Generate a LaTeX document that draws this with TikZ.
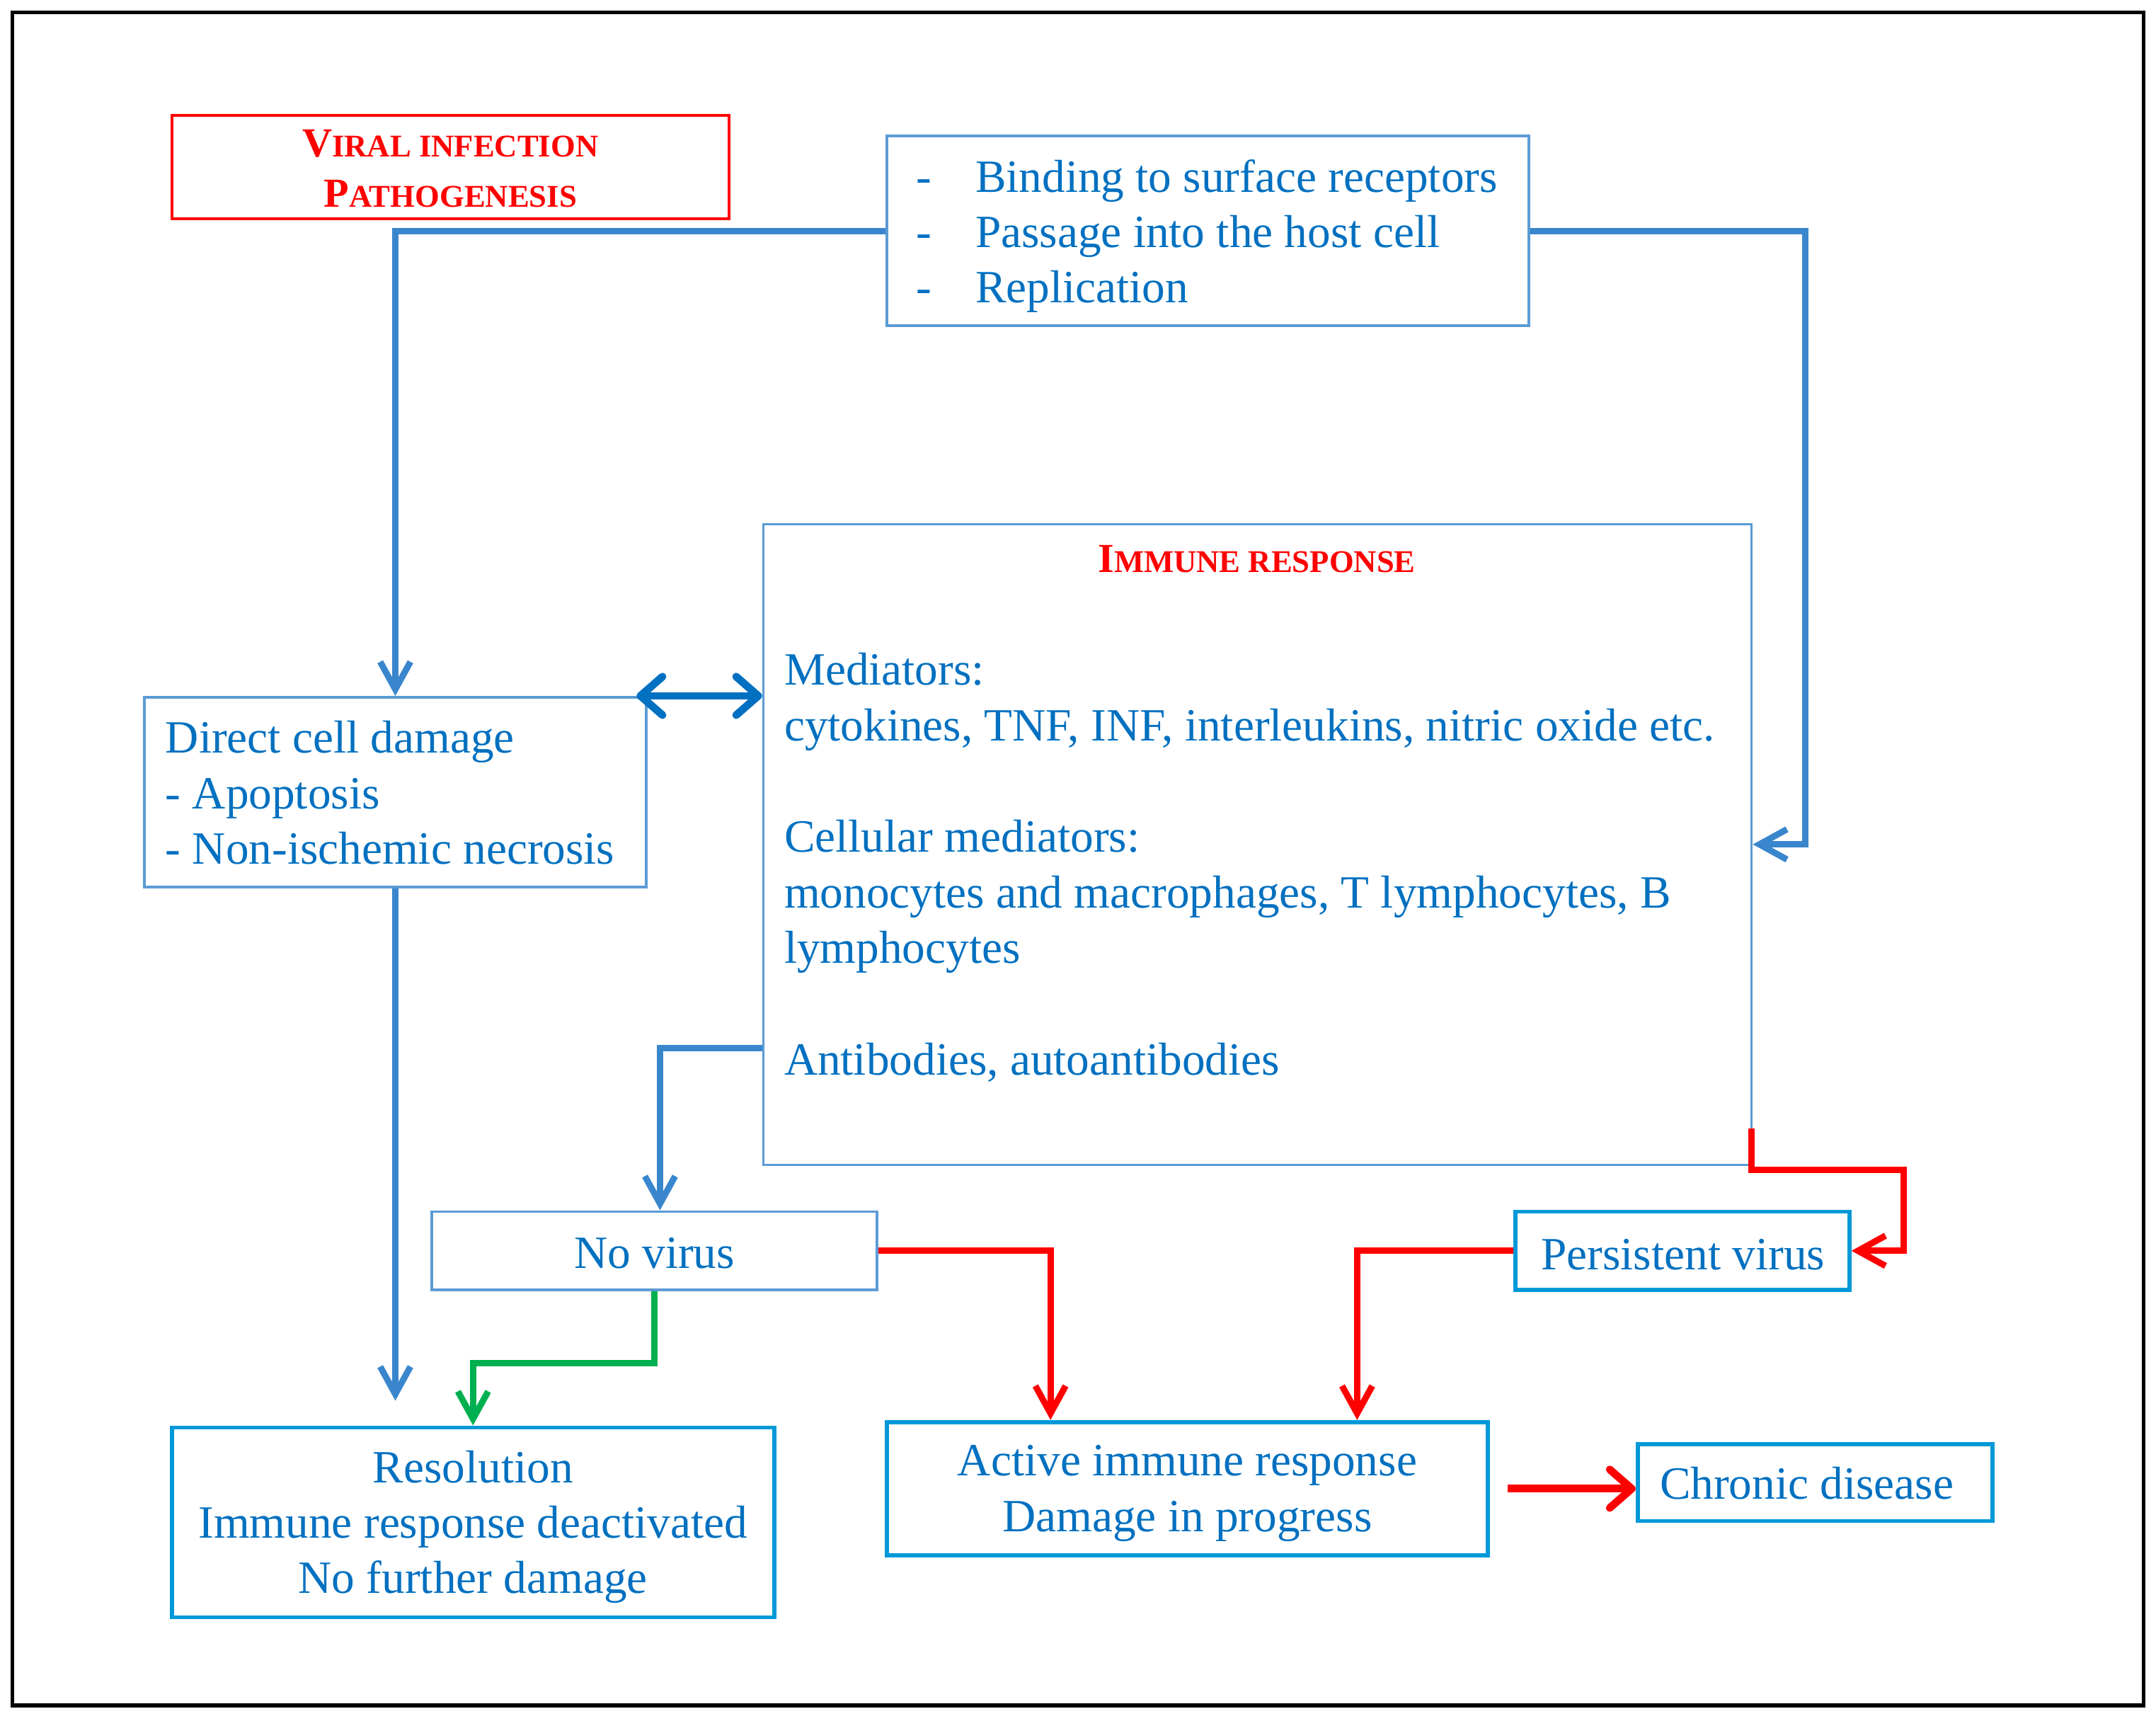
\documentclass[tikz,border=0pt]{standalone}
\usepackage{fontspec}
\setmainfont{Liberation Serif}
\usetikzlibrary{arrows.meta,calc}
\definecolor{txtblue}{HTML}{0070C0}
\definecolor{boxblue}{HTML}{5B9BD5}
\definecolor{boxblueB}{HTML}{0099D8}
\definecolor{lineblue}{HTML}{3A86CC}
\definecolor{dblblue}{HTML}{0070C0}
\definecolor{myred}{HTML}{FF0000}
\definecolor{mygreen}{HTML}{00B050}
\newcommand\mysc[2]{{\fontsize{15}{18}\selectfont #1}{\fontsize{11.5}{14}\selectfont #2}}
\begin{document}
\begin{tikzpicture}[x=0.5pt,y=-0.5pt,
  box/.style={draw, rectangle, inner sep=0pt},
  thinbox/.style={box, draw=boxblue, line width=1pt},
  thickbox/.style={box, draw=boxblueB, line width=1.5pt},
  txt/.style={inner sep=0pt, text=txtblue, font=\fontsize{16.8}{20.25}\selectfont},
  ttl/.style={inner sep=0pt, text=myred, font=\bfseries},
  conn/.style={line width=2.3pt, -{Straight Barb[length=10pt,width=11pt]}},
  dbl/.style={line width=2.8pt, dblblue, line cap=round,
    {Straight Barb[length=8pt,width=14pt,round]}-{Straight Barb[length=8pt,width=14pt,round]}},
  bigarrow/.style={line width=2.8pt, myred,
    -{Straight Barb[length=8pt,width=14pt,round]}}
]
\useasboundingbox (0,0) rectangle (1568,1251);
\draw[line width=1.5pt] (9,9) rectangle (1559,1240);

% boxes
\node[box, draw=myred, line width=1pt, minimum width=202.5pt, minimum height=37.5pt] (viral) at (327.5,121.5) {};
\node[ttl, anchor=base] (viral1) at (327.5,114) {\mysc{V}{IRAL INFECTION}};
\node[ttl, anchor=base] (viral2) at (327.5,150.5) {\mysc{P}{ATHOGENESIS}};

\node[thinbox, minimum width=233.5pt, minimum height=69pt] (bind) at (878.5,168) {};
\node[txt, anchor=base west] (bind1) at (666,140) {\makebox[21.5pt][l]{-}Binding to surface receptors};
\node[txt, anchor=base west] (bind2) at (666,180) {\makebox[21.5pt][l]{-}Passage into the host cell};
\node[txt, anchor=base west] (bind3) at (666,220) {\makebox[21.5pt][l]{-}Replication};

\node[thinbox, minimum width=182.5pt, minimum height=69pt] (direct) at (287.5,576) {};
\node[txt, anchor=base west] (direct1) at (120,547.5) {Direct cell damage};
\node[txt, anchor=base west] (direct2) at (120,588) {- Apoptosis};
\node[txt, anchor=base west] (direct3) at (120,628.5) {- Non-ischemic necrosis};

\node[thinbox, line width=0.8pt, minimum width=359.5pt, minimum height=233pt] (immune) at (914.5,614) {};
\node[ttl, anchor=base] (imm0) at (914,416) {\mysc{I}{MMUNE RESPONSE}};
\node[txt, anchor=base west] (imm1) at (570,498) {Mediators:};
\node[txt, anchor=base west] (imm2) at (570,538.5) {cytokines, TNF, INF, interleukins, nitric oxide etc.};
\node[txt, anchor=base west] (imm3) at (570,619.5) {Cellular mediators:};
\node[txt, anchor=base west] (imm4) at (570,660) {monocytes and macrophages, T lymphocytes, B};
\node[txt, anchor=base west] (imm5) at (570,700.5) {lymphocytes};
\node[txt, anchor=base west] (imm6) at (570,781.5) {Antibodies, autoantibodies};

\node[thinbox, minimum width=162pt, minimum height=28.5pt] (novirus) at (476,909.5) {};
\node[txt, anchor=base] (novirust) at (476,922) {No virus};

\node[thickbox, minimum width=121.5pt, minimum height=28.5pt] (persist) at (1223.5,909.5) {};
\node[txt, anchor=base] (persistt) at (1224,923) {Persistent virus};

\node[thickbox, minimum width=219pt, minimum height=69pt] (res) at (344,1107) {};
\node[txt, anchor=base] (res1) at (344,1078) {Resolution};
\node[txt, anchor=base] (res2) at (344,1118.5) {Immune response deactivated};
\node[txt, anchor=base] (res3) at (344,1158.5) {No further damage};

\node[thickbox, minimum width=218.5pt, minimum height=48.5pt] (active) at (863.5,1082.5) {};
\node[txt, anchor=base] (active1) at (863.5,1073) {Active immune response};
\node[txt, anchor=base] (active2) at (863.5,1113.5) {Damage in progress};

\node[thickbox, minimum width=129pt, minimum height=28pt] (chronic) at (1320,1078) {};
\node[txt, anchor=base] (chronict) at (1314,1090) {Chronic disease};

% connectors
\draw[conn, lineblue] (bind.west) -| (direct.north);
\draw[conn, lineblue] (bind.east) -| ($(immune.east)+(38,0)$) -- (immune.east);
\draw[dbl] ($(direct.north east)+(-8,0)$) -- (immune.west |- direct.north east);
\draw[conn, lineblue] (direct.south) -- ($(direct.south |- res.north)+(0,-18)$);
\draw[conn, lineblue] ($(immune.west)+(0,148)$) -| ($(novirus.north)+(4,0)$);
\draw[conn, mygreen] (novirus.south) -- ++(0,52) -| (res.north);
\draw[conn, myred] (novirus.east) -| ($(active.north)+(-99.5,0)$);
\draw[conn, myred] (persist.west) -| ($(active.north)+(123.5,0)$);
\draw[conn, myred] ($(immune.south east)+(-1,-27)$) -- ++(0,30) -| ($(persist.east)+(38,0)$) -- (persist.east);
\draw[bigarrow] ($(active.east)+(13,0)$) -- (chronic.west |- active.east);
\end{tikzpicture}
\end{document}
